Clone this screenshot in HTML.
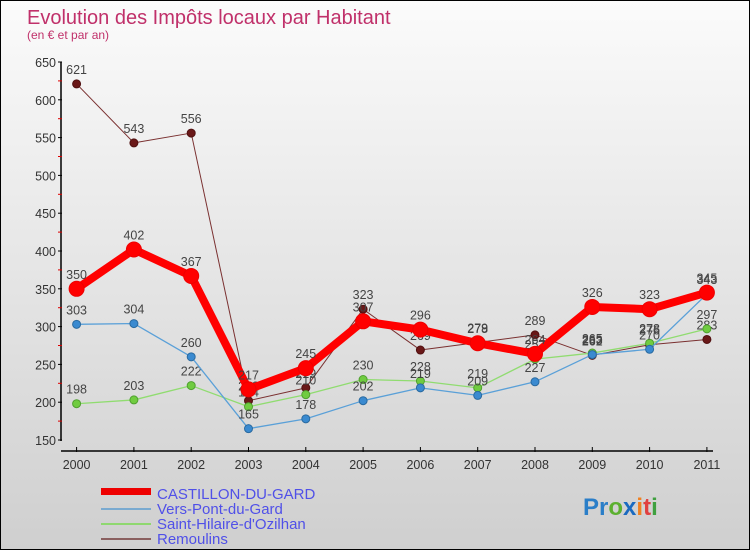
<!DOCTYPE html>
<html><head><meta charset="utf-8"><style>
html,body{margin:0;padding:0}
body{width:750px;height:550px;overflow:hidden;font-family:"Liberation Sans",sans-serif}
#wrap{position:relative;width:748px;height:548px;border:1px solid #000;background:linear-gradient(#fbfbfb,#cfcfcf)}
</style></head><body>
<div id="wrap">
<svg id="chart" width="748" height="548" style="position:absolute;left:0;top:0">
<text x="26" y="23" font-size="20" fill="#c0306a">Evolution des Impôts locaux par Habitant</text>
<text x="26" y="38" font-size="12" fill="#c0306a">(en € et par an)</text>
<g id="axes"></g><g id="series"></g>
<g>
<rect x="100" y="487" width="50" height="7" fill="#e00"/>
<text x="156" y="498" font-size="15" fill="#5050e8">CASTILLON-DU-GARD</text>
<rect x="100" y="507" width="50" height="2" fill="#7aaad0"/>
<text x="156" y="513" font-size="15" fill="#5050e8">Vers-Pont-du-Gard</text>
<rect x="100" y="522" width="50" height="2" fill="#8fd870"/>
<text x="156" y="528" font-size="15" fill="#5050e8">Saint-Hilaire-d'Ozilhan</text>
<rect x="100" y="537" width="50" height="2" fill="#8a6060"/>
<text x="156" y="543" font-size="15" fill="#5050e8">Remoulins</text>
</g>
<text x="582" y="514" font-size="24" font-weight="bold"><tspan fill="#2a7ec8">Pr</tspan><tspan fill="#5cb030">o</tspan><tspan fill="#1a6ac0">x</tspan><tspan fill="#f08020">i</tspan><tspan fill="#e04040">t</tspan><tspan fill="#40a040">i</tspan></text>
</svg>
</div>
<script>
const years=["2000","2001","2002","2003","2004","2005","2006","2007","2008","2009","2010","2011"];
const castillon=[350,402,367,217,245,307,296,278,264,326,323,345];
const vers=[303,304,260,165,178,202,219,209,227,263,270,343];
const hilaire=[198,203,222,194,210,230,228,219,257,265,278,297];
const remoulins=[621,543,556,202,219,323,269,279,289,262,276,283];
const yTicks=[150,200,250,300,350,400,450,500,550,600,650];
const NS="http://www.w3.org/2000/svg";
function X(i){return 75.6+i*57.3;}
function Y(v){return 439-(v-150)*0.756;}
function mk(t,a,p){const e=document.createElementNS(NS,t);for(const k in a)e.setAttribute(k,a[k]);p.appendChild(e);return e;}
const ax=document.getElementById('axes');
const yl=mk('line',{x1:60,y1:61,x2:60,y2:440,stroke:'#000','stroke-width':1.5},ax);


const xl=mk('line',{x1:60,y1:450,x2:712,y2:450,stroke:'#000','stroke-width':1.5},ax);


yTicks.forEach((v,i)=>{
 mk('line',{x1:57,y1:Y(v),x2:61,y2:Y(v),stroke:'#000'},ax);
 if(i<yTicks.length-1) mk('line',{x1:57,y1:Y(v+25),x2:61,y2:Y(v+25),stroke:'#d00'},ax);
 const t=mk('text',{x:55,y:Y(v)+5,'font-size':12.5,'text-anchor':'end',fill:'#333'},ax);t.textContent=v;
 
 
});
years.forEach((y,i)=>{
 mk('line',{x1:X(i),y1:446,x2:X(i),y2:451,stroke:'#000'},ax);
 const t=mk('text',{x:X(i),y:468,'font-size':12.5,'text-anchor':'middle',fill:'#333'},ax);t.textContent=y;
 
 
});
const sg=document.getElementById('series');
function series(d,name,col,w,r,dot,dotStroke){
 const g=mk('g',{},sg);
 
 
 mk('polyline',{points:d.map((v,i)=>X(i)+','+Y(v)).join(' '),fill:'none',stroke:col,'stroke-width':w,'stroke-linejoin':'round'},g);
 d.forEach((v,i)=>{
  const c=mk('circle',{cx:X(i),cy:Y(v),r:r,fill:dot,stroke:dotStroke,'stroke-width':1},g);
  
  
  const t=mk('text',{x:X(i),y:Y(v)-10,'font-size':12.5,'text-anchor':'middle',fill:'#444'},g);t.textContent=v;
  
  
 });
}
series(remoulins,'remoulins-series','#7a3030',1,4,'#6a1818','#501010');
series(hilaire,'saint-hilaire-series','#90dc70',1.3,4,'#70cc40','#50a030');
series(vers,'vers-series','#5aa0d8',1.3,4,'#3a8ad0','#2a6aa0');
series(castillon,'castillon-series','#f00',8,7.5,'#f00','#e00');
</script>
</body></html>
